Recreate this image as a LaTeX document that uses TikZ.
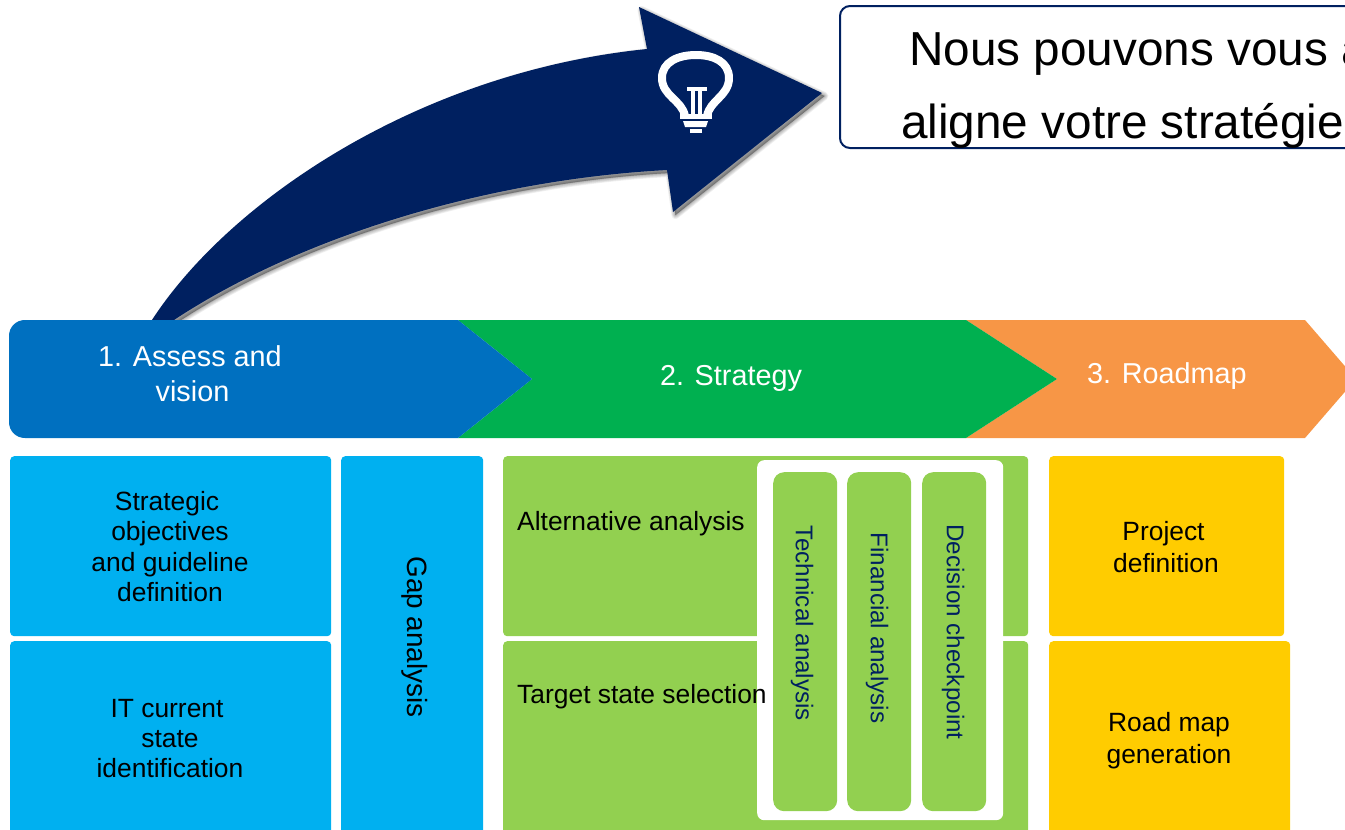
\documentclass[tikz,border=0pt]{standalone}
\usepackage{fontspec}
\setmainfont{Liberation Sans}
\definecolor{navy}{HTML}{002060}
\definecolor{barblue}{HTML}{0070C0}
\definecolor{bargreen}{HTML}{00B050}
\definecolor{barorange}{HTML}{F79646}
\definecolor{skyb}{HTML}{00B0F0}
\definecolor{lime}{HTML}{92D050}
\definecolor{amber}{HTML}{FFCC00}
\tikzset{
  panel/.style={inner sep=0pt,rounded corners=4pt,anchor=north west},
  skybox/.style={panel,fill=skyb},
  limebox/.style={panel,fill=lime},
  amberbox/.style={panel,fill=amber},
  whitebox/.style={panel,fill=white,rounded corners=7pt},
  pill/.style={panel,fill=lime,rounded corners=11pt},
  txt/.style={inner sep=0pt,font=\fontsize{26.4}{30.4}\selectfont,align=center,text=black},
  bartxt/.style={txt,text=white,font=\fontsize{28.8}{35}\selectfont},
  ytxt/.style={txt,font=\fontsize{26.4}{32}\selectfont},
  vert/.style={txt,rotate=-90,font=\fontsize{27.9}{32}\selectfont},
  vertnavy/.style={inner sep=0pt,rotate=-90,text=navy,font=\fontsize{24.2}{28}\selectfont},
  leftt/.style={txt,anchor=west},
  bigt/.style={inner sep=0pt,anchor=base west,font=\fontsize{47.7}{48}\selectfont},
}
\newcommand{\boxn}[6]{\node[#6,minimum width=#4pt-#2pt,minimum height=#5pt-#3pt] (#1) at (#2,#3) {};}
\newcommand{\bigarrow}{(152,320) .. controls (230,200) and (420,72) .. (647,49) -- (639,7) -- (822,93) -- (673,212) -- (667,170) .. controls (480,180) and (295,240) .. (174,320) -- cycle}
\begin{document}
\begin{tikzpicture}[x=1pt,y=-1pt]
\useasboundingbox (0,0) rectangle (1345,830);
\clip (0,0) rectangle (1345,830);
% big arrow with soft shadow
\foreach \w in {8,6.5,5,3.5,2,1,0.3}{
  \fill[black,draw=black,line width=\w pt,opacity=.06,line join=round,shift={(2.5,3)}] \bigarrow;
}
\fill[navy] \bigarrow;
% light bulb
\draw[white,line width=8pt,line join=round] (685,116) .. controls (682,100) and (662,96) .. (662,78)
  .. controls (662,62) and (678,55) .. (696,55)
  .. controls (714,55) and (729,62) .. (729,78)
  .. controls (729,96) and (710,100) .. (707,116);
\fill[white] (680,114) rectangle (712,118.5);
\fill[white] (683,121) -- (708,121) -- (706,127) -- (685,127) -- cycle;
\fill[white] (690,128.5) rectangle (702,133);
\fill[white] (687,87) rectangle (707,91);
\fill[white] (691,91) rectangle (694.5,115);
\fill[white] (698,91) rectangle (702,115);
% callout
\node[panel,draw=navy,line width=2pt,fill=white,rounded corners=10pt,minimum width=700pt,minimum height=142pt] (callout) at (839,5) {};
\node[bigt] (line1) at (909,65) {Nous pouvons vous a};
\node[bigt] (line2) at (901,138) {aligne votre stratégie};
% chevron bar
\fill[barorange] (966,320) -- (1305,320) -- (1356,379) -- (1305,438) -- (966,438) -- (1057,379) -- cycle;
\fill[bargreen] (458,320) -- (966,320) -- (1057,379) -- (966,438) -- (458,438) -- (532,379) -- cycle;
\fill[barblue] (25,320) -- (458,320) -- (532,379) -- (458,438) -- (25,438)
  .. controls (16,438) and (9,431) .. (9,422) -- (9,336) .. controls (9,327) and (16,320) .. (25,320) -- cycle;
\node[bartxt] (t1) at (190,373.5) {1. Assess and\\ \hspace*{5pt}vision};
\node[bartxt] (t2) at (731,378) {2. Strategy};
\node[bartxt] (t3) at (1167,376) {3. Roadmap};
% panels
\boxn{a1}{10}{456}{331}{636}{skybox}
\boxn{a2}{10}{641}{331}{850}{skybox}
\boxn{gap}{341}{456}{483}{850}{skybox}
\boxn{g1}{503}{456}{1028}{636}{limebox}
\boxn{g2}{503}{641}{1028}{850}{limebox}
\boxn{y1}{1049}{456}{1284}{636}{amberbox}
\boxn{y2}{1049}{641}{1290}{850}{amberbox}
\boxn{w}{757}{460}{1003}{820}{whitebox}
\boxn{p1}{773}{472}{837}{811}{pill}
\boxn{p2}{847}{472}{911}{811}{pill}
\boxn{p3}{922}{472}{986}{811}{pill}
\node[txt] (ta1) at (170,546.5) {Strategic\hspace*{6pt}\\ objectives\\ and guideline\\ definition};
\node[txt] (ta2) at (170,738.5) {IT current\hspace*{6pt}\\ state\\ identification};
\node[vert] (tgap) at (415,637) {Gap analysis};
\node[leftt] (tg1) at (517,524) {Alternative analysis};
\node[leftt] (tg2) at (517,697) {Target state selection};
\node[vertnavy] (tp1) at (802,623.5) {Technical analysis};
\node[vertnavy] (tp2) at (877,628) {Financial analysis};
\node[vertnavy] (tp3) at (953,632) {Decision checkpoint};
\node[ytxt] (ty1) at (1166,547) {Project\hspace*{5pt}\\ definition};
\node[ytxt] (ty2) at (1169,741) {Road map\\ generation};
\end{tikzpicture}
\end{document}
